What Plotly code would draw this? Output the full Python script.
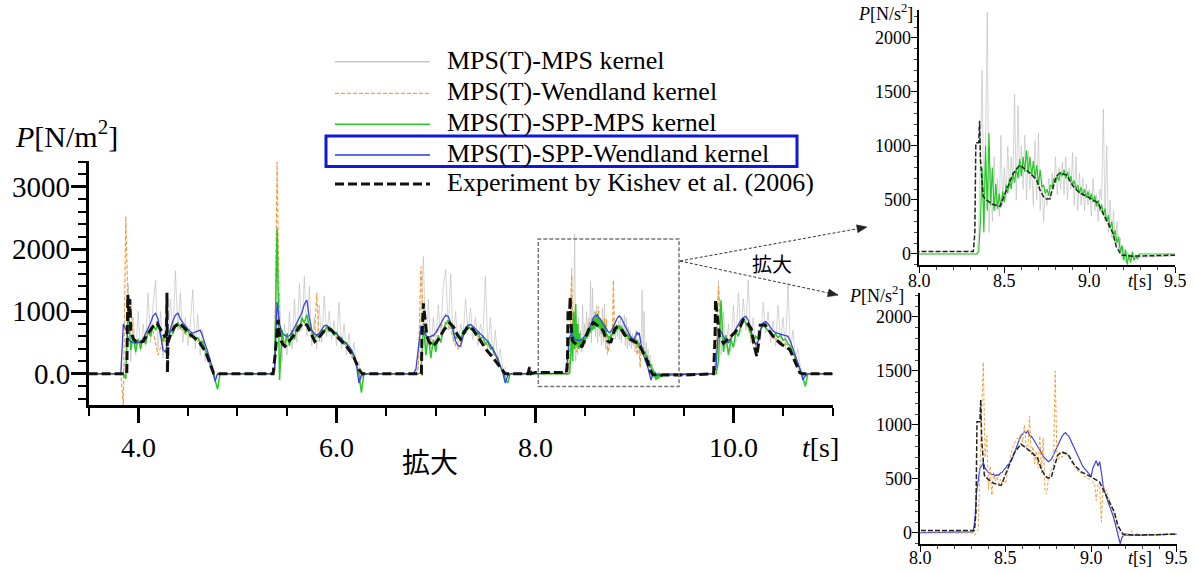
import numpy as np
import plotly.graph_objects as go

W, H = 1194, 574
def px(x): return x / W
def py(y): return 1 - y / H

SERIF = "Liberation Serif"
CJK = "Noto Sans CJK JP"

# ---------------- data ----------------
series_names = ["MPS(T)-MPS kernel", "MPS(T)-Wendland kernel", "MPS(T)-SPP-MPS kernel",
                "MPS(T)-SPP-Wendland kernel", "Experiment by Kishev et al. (2006)"]

# tick values / labels
main_xticks = [4.0, 6.0, 8.0, 10.0]
main_xlabels = ["4.0", "6.0", "8.0", "10.0"]
main_yticks = [0, 1000, 2000, 3000]
main_ylabels = ["0.0", "1000", "2000", "3000"]
inset_xticks = [8.0, 8.5, 9.0, 9.5]
inset_xlabels = ["8.0", "8.5", "9.0", "9.5"]
inset_yticks = [0, 500, 1000, 1500, 2000]
inset_ylabels = ["0", "500", "1000", "1500", "2000"]

# sampling grid (start time, step) of each wave-impact event
event_grids = [(3.825, 0.025), (5.35, 0.025), (6.775, 0.025), (8.31, 0.01), (9.775, 0.025)]

# MPS(T)-MPS kernel (gray)
gray_e1 = [0,0,300,1450,200,900,300,1000,350,800,450,1300,500,1100,1500,400,1000,250,900,500,1200,600,1650,700,1300,500,900,450,800,1350,400,950,300,700,200,400,100,150,-50,0,0]
gray_e2 = [0,0,600,1300,200,800,300,1000,400,1200,500,1450,700,1560,600,1400,450,900,400,1100,500,1250,600,1000,550,850,450,1150,400,800,300,650,250,500,100,200,-80,0,0]
gray_e3 = [0,0,200,900,1880,300,1200,400,900,500,1100,600,1400,1670,700,1600,500,1000,400,800,600,1200,700,1050,550,900,450,800,600,1560,400,900,300,700,200,400,80,100,-50,0,0]
gray_e4 = [0,0,0,0,200,900,1700,300,1000,2240,
           200,800,300,900,400,700,350,1100,450,800,
           500,1000,600,900,650,1480,500,1370,700,1000,
           600,1100,500,950,600,800,450,1050,500,1120,
           400,700,300,600,450,700,500,750,600,900,
           550,800,600,850,550,900,500,800,600,940,
           450,900,400,750,450,700,400,650,450,600,
           350,700,400,550,300,600,500,1340,300,1000,
           200,500,150,400,100,300,50,150,-50,60,
           -80,20,-60,0,-40,-20,-50,-20,-30,-30]
gray_e5 = [0,0,500,1500,300,1000,400,800,350,1100,500,1300,650,1200,700,1500,500,900,400,700,600,1150,650,1000,500,850,450,1100,500,900,400,1450,350,700,250,400,100,50,-50,0,0]

# MPS(T)-Wendland kernel (orange)
orange_e1 = [0,-500,2520,850,1150,600,450,520,480,560,620,700,740,680,480,300,420,560,520,600,700,760,800,780,720,700,640,620,580,600,560,520,560,480,360,260,150,40,-60,0,0]
orange_e2 = [0,0,3400,700,560,480,560,520,600,680,740,800,860,820,760,700,620,540,1300,520,640,700,740,700,680,640,600,560,520,480,440,400,340,240,120,20,-40,0,0]
orange_e3 = [0,0,100,1720,900,620,520,560,600,640,700,760,800,820,780,700,560,450,400,480,600,700,740,720,680,640,600,560,520,480,460,420,360,280,200,100,20,-40,0,0,0]
orange_e4 = [0,-20,10,30,600,1200,1580,700,900,400,
             620,350,560,480,520,430,500,450,480,460,
             560,640,720,780,820,860,880,850,900,840,
             1000,800,760,1080,720,800,640,760,600,900,
             560,880,400,360,500,560,600,620,1500,700,
             680,740,700,760,720,740,700,680,640,620,
             600,580,560,560,540,520,520,500,500,480,
             470,460,300,450,420,100,440,380,400,340,
             300,240,200,120,60,20,0,-10,-30,-20,
             0,-30,-10,20,-20,-30,0,-20,-10,-20]
orange_e5 = [0,0,200,1400,700,560,500,540,600,660,720,780,820,840,800,720,600,440,360,560,720,760,740,680,620,580,560,540,520,500,480,460,400,320,220,100,20,-40,0,0,0]

# MPS(T)-SPP-MPS kernel (green)
green_e1 = [0,0,-80,1100,380,620,350,560,400,580,480,680,600,780,700,800,620,520,640,560,700,640,780,820,740,760,660,700,600,620,540,580,500,520,380,300,150,60,-100,-250,0]
green_e2 = [0,50,2330,-100,700,420,650,450,700,550,780,680,900,820,950,760,680,560,620,580,700,660,760,680,720,620,660,560,580,480,500,420,380,260,150,0,-300,0,0]
green_e3 = [0,0,0,20,820,300,600,250,550,350,620,500,720,800,860,760,700,560,620,520,700,640,780,720,740,620,680,560,600,480,520,400,420,300,260,120,40,-80,-150,0,0]
green_e4 = [0,0,0,0,20,300,800,200,1000,400,
            1120,450,800,400,650,420,560,430,580,480,
            640,560,700,600,760,660,800,700,880,720,
            900,760,960,740,900,720,860,700,820,640,
            780,620,640,560,600,540,640,620,700,660,
            720,680,760,720,780,700,760,680,720,640,
            680,600,640,560,620,540,600,520,580,500,
            560,480,540,440,500,400,460,360,420,300,
            360,240,300,160,220,100,160,20,80,-60,
            40,-100,0,-80,20,-60,-10,-50,0,0]
green_e5 = [0,0,0,200,1180,350,620,300,560,420,680,600,780,860,820,760,640,520,600,560,720,800,740,700,660,600,640,580,620,540,560,480,440,340,260,140,60,-60,-200,0,0]

# MPS(T)-SPP-Wendland kernel (blue)
blue_e1 = [0,800,720,560,520,500,490,510,500,560,640,720,820,930,970,880,600,380,350,560,720,850,940,975,880,820,760,720,680,650,670,690,700,600,480,360,230,60,-120,0,0]
blue_e2 = [0,100,1150,800,660,620,600,610,660,740,820,900,980,1120,1180,900,700,640,620,650,720,770,780,740,700,670,640,600,560,520,490,440,380,300,150,-150,-20,0,0]
blue_e3 = [0,80,400,760,700,620,580,600,620,660,720,800,880,940,920,820,680,520,450,440,600,740,780,790,760,720,680,640,600,560,520,460,400,320,220,120,20,-150,-30,0,0]
blue_e4 = [10,100,370,480,600,620,650,600,575,560,
           550,540,545,530,540,535,555,560,585,600,
           625,640,665,690,735,780,835,870,905,915,
           940,925,945,905,895,875,850,820,790,765,
           740,710,690,675,660,670,690,725,760,800,
           840,870,895,915,930,910,895,860,825,790,
           760,720,680,650,620,600,580,560,540,525,
           600,640,670,620,660,560,440,380,320,280,
           240,200,150,90,20,-60,-100,-40,-20,-20,
           -20,-20,-20,-20,-20,-20,-20,-20,-20,-20]
blue_e5 = [0,0,100,720,680,600,520,500,560,640,720,800,860,900,920,860,720,560,470,520,700,820,840,800,740,690,660,650,630,620,610,600,520,400,280,150,60,-100,-30,0,0]

# Experiment (black dashed)
exp_t1 = [3.5,3.885,3.89,3.895,3.905,3.915,3.925,3.95,3.99,4.05,4.10,4.15,4.19,4.23,4.265,4.285,4.29,4.295,4.30,4.33,4.37,4.42,4.47,4.52,4.58,4.62,4.68,4.72,4.76,4.78]
exp_p1 = [0,0,600,1265,1000,1200,700,560,500,520,650,760,810,700,600,620,1300,20,500,650,760,815,720,640,560,500,350,180,10,0]
exp_t2 = [5.36,5.38,5.41,5.43,5.46,5.48,5.52,5.56,5.62,5.66,5.70,5.73,5.78,5.83,5.88,5.92,5.96,6.00,6.05,6.10,6.17,6.23,6.26]
exp_p2 = [0,300,865,560,470,440,520,600,740,815,785,680,520,600,700,730,680,600,520,440,280,60,0]
exp_t3 = [6.855,6.86,6.875,6.89,6.91,6.93,6.975,7.03,7.08,7.14,7.18,7.22,7.25,7.29,7.33,7.38,7.44,7.51,7.58,7.64,7.70]
exp_p3 = [0,600,1130,900,600,520,440,560,700,815,750,620,560,680,760,700,560,385,250,120,0]
exp_t4 = [7.93,7.945,7.96,8.0,8.318,8.327,8.333,8.350,8.355,8.36,8.376,8.396,8.43,8.474,8.513,8.55,8.59,8.62,8.649,8.688,
          8.708,8.73,8.747,8.766,8.786,8.805,8.825,8.864,8.903,8.942,9.0,9.049,9.097,9.136,9.156,9.185,9.25,9.5]
exp_p4 = [0,110,0,22,22,190,1030,1030,1233,876,534,500,460,440,596,740,823,790,752,690,
          596,530,509,512,627,720,750,730,627,565,519,472,317,193,68,-9,-20,-20]
exp_t5 = [9.79,9.80,9.815,9.82,9.84,9.86,9.90,9.95,10.0,10.07,10.10,10.14,10.18,10.21,10.235,10.255,10.27,10.32,10.36,10.40,10.47,10.52,10.57,10.62,10.67,10.70,11.0]
exp_p5 = [0,0,600,1185,900,600,490,560,640,760,865,820,720,450,280,500,780,785,700,600,490,440,385,200,15,0,0]


def build(event_lists):
    t, p = [3.5], [0]
    for (start, step), vals in zip(event_grids, event_lists):
        t += list(np.round(start + step * np.arange(len(vals)), 4))
        p += list(vals)
    t.append(11.0)
    p.append(0)
    return t, p

gray_t, gray_p = build([gray_e1, gray_e2, gray_e3, gray_e4, gray_e5])
orange_t, orange_p = build([orange_e1, orange_e2, orange_e3, orange_e4, orange_e5])
green_t, green_p = build([green_e1, green_e2, green_e3, green_e4, green_e5])
blue_t, blue_p = build([blue_e1, blue_e2, blue_e3, blue_e4, blue_e5])
exp_t = exp_t1 + exp_t2 + exp_t3 + exp_t4 + exp_t5
exp_p = exp_p1 + exp_p2 + exp_p3 + exp_p4 + exp_p5

# ---------------- styles ----------------
C_GRAY = "rgba(185,185,185,0.6)"
C_ORANGE = "#f0a040"
C_GREEN = "#28c828"
C_BLUE = "#3a44e0"
C_BLACK = "#111111"

fig = go.Figure()

def add(t, p, name, color, width, dash, xa, ya):
    fig.add_trace(go.Scatter(x=t, y=p, mode="lines", name=name, showlegend=False,
                             line=dict(color=color, width=width, dash=dash),
                             xaxis=xa, yaxis=ya, hoverinfo="skip"))

add(gray_t, gray_p, series_names[0], C_GRAY, 1, "solid", "x", "y")
add(orange_t, orange_p, series_names[1], C_ORANGE, 1.2, "4px,2px", "x", "y")
add(green_t, green_p, series_names[2], C_GREEN, 1.5, "solid", "x", "y")
add(blue_t, blue_p, series_names[3], C_BLUE, 1.3, "solid", "x", "y")
add(exp_t, exp_p, series_names[4], C_BLACK, 3, "9px,4px", "x", "y")
add(gray_t, gray_p, series_names[0], C_GRAY, 1, "solid", "x2", "y2")
add(green_t, green_p, series_names[2], C_GREEN, 1.2, "solid", "x2", "y2")
add(exp_t, exp_p, series_names[4], "#222222", 1.5, "5px,2px", "x2", "y2")
add(blue_t, blue_p, series_names[3], C_BLUE, 1.2, "solid", "x3", "y3")
add(orange_t, orange_p, series_names[1], C_ORANGE, 1, "3px,2px", "x3", "y3")
add(exp_t, exp_p, series_names[4], "#222222", 1.5, "5px,2px", "x3", "y3")

MAIN = dict(x=[88.6, 832.6], y=[405, 161])
IN1 = dict(x=[919, 1175], y=[265, 10])
IN2 = dict(x=[920, 1176.7], y=[544, 293])
def dom_x(b): return [px(b["x"][0]), px(b["x"][1])]
def dom_y(b): return [py(b["y"][0]), py(b["y"][1])]

main_major = dict(showline=True, linecolor="black", linewidth=3, ticks="outside", ticklen=15,
                  tickwidth=3, tickcolor="black", showgrid=False, zeroline=False, showticklabels=False)
inset_major = dict(showline=True, linecolor="black", linewidth=1.5, ticks="outside", ticklen=6,
                   tickwidth=1.2, tickcolor="black", showgrid=False, zeroline=False, showticklabels=False)
def mminor(d): return dict(dtick=d, tick0=0, ticklen=8, tickwidth=1.5, tickcolor="black", ticks="outside")
def iminor(d): return dict(dtick=d, tick0=0, ticklen=3, tickwidth=1, tickcolor="#444", ticks="outside")

XR_MAIN, YR_MAIN = [3.5, 11.0], [-500, 3412]
XR_IN, YR_IN1, YR_IN2 = [8.0, 9.5], [-102, 2259], [-102, 2222]

fig.update_layout(
    width=W, height=574, autosize=False,
    margin=dict(l=0, r=0, t=0, b=0),
    paper_bgcolor="white", plot_bgcolor="white", showlegend=False,
    font=dict(family=SERIF, color="black"),
    xaxis=dict(**main_major, domain=dom_x(MAIN), range=XR_MAIN, anchor="y",
               tickmode="array", tickvals=main_xticks, minor=mminor(0.5)),
    yaxis=dict(**main_major, domain=dom_y(MAIN), range=YR_MAIN, anchor="x",
               tickmode="array", tickvals=main_yticks, minor=mminor(200)),
    xaxis2=dict(**inset_major, domain=dom_x(IN1), range=XR_IN, anchor="y2",
                tickmode="array", tickvals=inset_xticks, minor=iminor(0.1)),
    yaxis2=dict(**inset_major, domain=dom_y(IN1), range=YR_IN1, anchor="x2",
                tickmode="array", tickvals=inset_yticks, minor=iminor(100)),
    xaxis3=dict(**inset_major, domain=dom_x(IN2), range=XR_IN, anchor="y3",
                tickmode="array", tickvals=inset_xticks, minor=iminor(0.1)),
    yaxis3=dict(**inset_major, domain=dom_y(IN2), range=YR_IN2, anchor="x3",
                tickmode="array", tickvals=inset_yticks, minor=iminor(100)),
)

shapes = []
annotations = []

def text(t, x, y, size, xref="paper", yref="paper", family=SERIF, xanchor="center", yanchor="middle"):
    annotations.append(dict(text=t, xref=xref, yref=yref, x=x, y=y, xanchor=xanchor, yanchor=yanchor,
                            showarrow=False, font=dict(family=family, size=size, color="black")))

# tick labels (serif), placed at the axes' own tick values
for v, s in zip(main_xticks, main_xlabels):
    text(s, v, py(447), 28, xref="x")
for v, s in zip(main_yticks, main_ylabels):
    text(s, px(72), v, 29, yref="y", xanchor="right")
for v, s in zip(inset_xticks, inset_xlabels):
    text(s, v, py(281), 18, xref="x2")
    text(s, v, py(558), 18, xref="x3")
for v, s in zip(inset_yticks, inset_ylabels):
    text(s, px(913), v, 18, yref="y2", xanchor="right")
    text(s, px(914), v, 18, yref="y3", xanchor="right")

# legend (drawn manually to match the long line samples)
legend_rows = [61.7, 93.3, 124.3, 155.0, 184.0]
legend_styles = [("#c8c8c8", 1.5, "solid"), (C_ORANGE, 1.2, "4px,2px"), (C_GREEN, 1.5, "solid"),
                 ("#2a3ad0", 1.5, "solid"), (C_BLACK, 3, "9px,4px")]
for yrow, (col, w, d), name in zip(legend_rows, legend_styles, series_names):
    shapes.append(dict(type="line", xref="paper", yref="paper", x0=px(335), x1=px(430),
                       y0=py(yrow), y1=py(yrow), line=dict(color=col, width=w, dash=d)))
    text(name, px(445), py(yrow - 1.5), 26, xanchor="left")
shapes.append(dict(type="rect", xref="paper", yref="paper", x0=px(326), x1=px(797),
                   y0=py(166.5), y1=py(136), line=dict(color="rgb(15,25,220)", width=3)))

# zoom window in main chart and arrows to the insets
shapes.append(dict(type="rect", xref="x", yref="y", x0=8.033, x1=9.452, y0=-203, y1=2162,
                   line=dict(color="#777777", width=1.5, dash="4px,2px")))
for (x1, y1) in [(867, 227), (838, 295)]:
    x0, y0 = 680, 261
    shapes.append(dict(type="line", xref="paper", yref="paper", x0=px(x0), y0=py(y0),
                       x1=px(x1), y1=py(y1), line=dict(color="#333333", width=1, dash="3px,2px")))
    dx, dy = x1 - x0, y1 - y0
    L = (dx * dx + dy * dy) ** 0.5
    ux, uy = dx / L, dy / L
    bx, by = x1 - 10 * ux, y1 - 10 * uy
    pts = [(x1, y1), (bx - 4 * uy, by + 4 * ux), (bx + 4 * uy, by - 4 * ux)]
    path = "M " + " L ".join(f"{px(a):.5f},{py(b):.5f}" for a, b in pts) + " Z"
    shapes.append(dict(type="path", xref="paper", yref="paper", path=path,
                       fillcolor="#222222", line=dict(color="#222222", width=0.5)))

# axis titles and other labels
text("<i>P</i>[N/m<sup>2</sup>]", px(13), py(134), 30, xanchor="left")
text("<i>t</i>[s]", px(820), py(447), 28)
text("拡大", px(430), py(461), 28, family=CJK)
text("拡大", px(772), py(263), 20, family=CJK)
text("<i>P</i>[N/s<sup>2</sup>]", px(915), py(12), 18, xanchor="right")
text("<i>t</i>[s]", px(1140), py(281), 18)
text("<i>P</i>[N/s<sup>2</sup>]", px(906), py(294), 18, xanchor="right")
text("<i>t</i>[s]", px(1140), py(558), 18)

fig.update_layout(shapes=shapes, annotations=annotations)
fig.write_html("out.html")
